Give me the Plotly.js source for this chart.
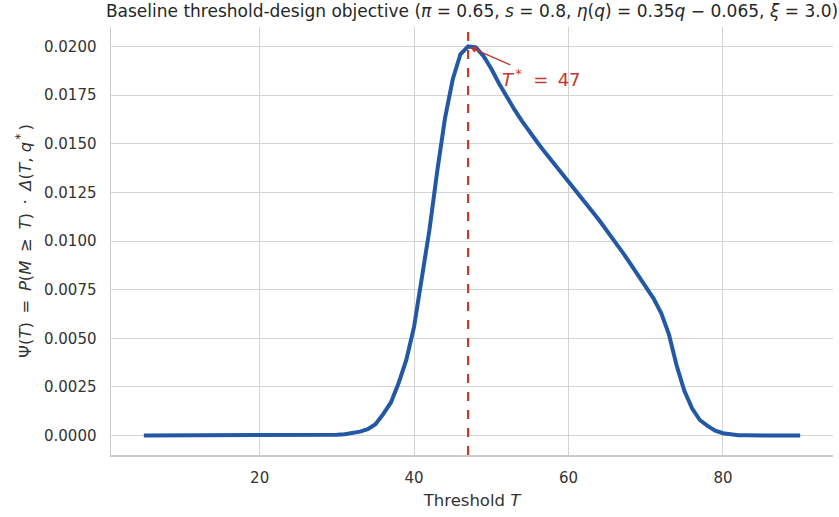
<!DOCTYPE html>
<html>
<head>
<meta charset="utf-8">
<script src="https://cdn.plot.ly/plotly-3.0.1.min.js"></script>
<style>html,body{margin:0;padding:0;background:#fff;}#chart{width:839px;height:517px;}</style>
</head>
<body>
<div id="chart"></div>
<script>
var thresholds = [5,6,7,8,9,10,11,12,13,14,15,16,17,18,19,20,21,22,23,24,25,26,27,28,29,30,31,32,33,34,35,36,37,38,39,40,41,42,43,44,45,46,47,48,49,50,51,52,53,54,55,56,57,58,59,60,61,62,63,64,65,66,67,68,69,70,71,72,73,74,75,76,77,78,79,80,81,82,83,84,85,86,87,88,89,90];
var psiValues = [0,0,0,0,0,0,0,0,0,0,0,0,0,0,0,0,0,0,0,0,0,0,0,0.00001,0.00002,0.00004,0.00007,0.00012,0.0002,0.00033,0.00058,0.0011,0.0017,0.0027,0.0039,0.0056,0.0080,0.0106,0.0136,0.0163,0.0183,0.0196,0.0200,0.01995,0.0195,0.01885,0.0181,0.0174,0.01675,0.01615,0.01558,0.01505,0.01453,0.01402,0.01352,0.01302,0.01252,0.01203,0.01155,0.01105,0.01053,0.00998,0.00942,0.00884,0.00826,0.00767,0.00705,0.0063,0.0052,0.0036,0.0023,0.0014,0.0008,0.0005,0.00025,0.00012,0.00005,0.00002,0.00001,0,0,0,0,0,0,0];
var optimalT = 47;
var peakPsi = 0.0200;
var xTicks = [20,40,60,80];
var yTicks = [0,0.0025,0.005,0.0075,0.01,0.0125,0.015,0.0175,0.02];

var trace = {
  x: thresholds, y: psiValues, type: 'scatter', mode: 'lines',
  line: {color: '#2358a6', width: 4}, hoverinfo: 'skip'
};

var sp = '\u2009';
var layout = {
  width: 839, height: 517,
  margin: {l: 111, r: 6, t: 27, b: 62},
  paper_bgcolor: '#ffffff', plot_bgcolor: '#ffffff',
  font: {family: 'DejaVu Sans, sans-serif', color: '#333333', size: 15},
  showlegend: false,
  title: {
    text: 'Baseline threshold-design objective (<i>π</i> = 0.65, <i>s</i> = 0.8, <i>η</i>(<i>q</i>) = 0.35<i>q</i> − 0.065, <i>ξ</i> = 3.0)',
    font: {size: 17, color: '#262626'}, x: 0.5, xref: 'paper', xanchor: 'center', y: 0.978, yref: 'container', yanchor: 'middle'
  },
  xaxis: {
    range: [0.75, 94.25], tickvals: xTicks, ticktext: xTicks.map(String),
    showgrid: true, gridcolor: '#d4d4d4', gridwidth: 1, zeroline: false,
    showline: true, linecolor: '#cccccc', linewidth: 1.5, ticks: '', ticklabelstandoff: 8,
    tickfont: {size: 15, color: '#333333'},
    title: {text: 'Threshold <i>T</i>', font: {size: 16.5, color: '#333333'}, standoff: 9}
  },
  yaxis: {
    range: [-0.001, 0.021], tickvals: yTicks, tickformat: '.4f',
    showgrid: true, gridcolor: '#d4d4d4', gridwidth: 1, zeroline: false,
    showline: true, linecolor: '#cccccc', linewidth: 1.5, ticks: '', ticklabelstandoff: 10,
    tickfont: {size: 15, color: '#333333'},
    title: {text: 'Ψ(<i>T</i>)' + sp + ' = ' + sp + '<i>P</i>(<i>M</i>' + sp + ' ≥ ' + sp + '<i>T</i>)' + sp + ' · ' + sp + '<i>Δ</i>(<i>T</i>, <i>q</i><sup>' + sp + '*</sup>' + sp + ')', font: {size: 16.5, color: '#333333'}, standoff: 8}
  },
  shapes: [{
    type: 'line', xref: 'x', yref: 'paper', x0: optimalT, x1: optimalT, y0: 0, y1: 1,
    line: {color: '#c0392b', width: 2.2, dash: 'dash'}
  }],
  annotations: [{
    x: optimalT, y: peakPsi, xref: 'x', yref: 'y',
    text: '<i>T</i><sup>' + sp + '*</sup>\u00a0 = ' + sp + '47', showarrow: true,
    ax: 73, ay: 32, arrowhead: 2, arrowsize: 1, arrowwidth: 1.3, arrowcolor: '#c0392b',
    font: {size: 18, color: '#c0392b'}, standoff: 2
  }]
};

Plotly.newPlot('chart', [trace], layout, {displayModeBar: false, staticPlot: true});
</script>
</body>
</html>
